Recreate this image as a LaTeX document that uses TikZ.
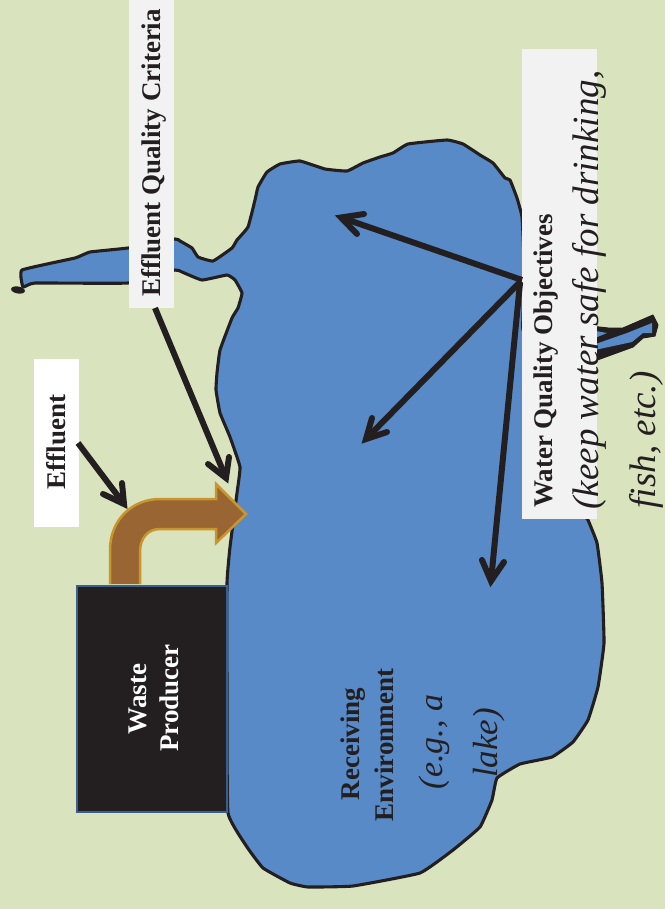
\documentclass[tikz,border=0pt]{standalone}
\usepackage{fontspec}
\setmainfont{Liberation Serif}
\definecolor{bggreen}{HTML}{D9E4BE}
\definecolor{lakeblue}{HTML}{578AC7}
\definecolor{inkblack}{HTML}{231F20}
\definecolor{brownfill}{HTML}{996633}
\definecolor{brownedge}{HTML}{C8962C}
\definecolor{boxgrey}{HTML}{F2F2F2}
\definecolor{boxedge}{HTML}{3A5F8C}
\tikzset{
  shore/.style={draw=inkblack,line width=3.1pt,line join=round,line cap=round,fill=lakeblue},
  pointer/.style={draw=inkblack,line width=6pt,line cap=butt},
  barb/.style={draw=inkblack,line width=6pt,line cap=round,line join=miter,miter limit=10},
  boldlabel/.style={font=\bfseries\fontsize{27}{27}\selectfont,text=inkblack,rotate=90,inner sep=0pt,anchor=base},
  whitelabel/.style={boldlabel,text=white},
  itlabel/.style={font=\itshape\fontsize{37}{37}\selectfont,text=inkblack,rotate=90,inner sep=0pt,anchor=base},
  panel/.style={draw=none,inner sep=0pt}
}
\begin{document}
\begin{tikzpicture}[x=1pt,y=-1pt]
\useasboundingbox (0,0) rectangle (670,909);
\fill[white] (0,0) rectangle (670,909);
\fill[bggreen] (0,0) rectangle (665,909);
% right-hand stream
\fill[inkblack,draw=inkblack,line width=1pt,line join=round] (590,326) -- (608,328) -- (623,328) -- (653,315) -- (658,325) -- (655,336) -- (643,338) -- (633,347) -- (600,359) -- (590,362) -- cycle;
\fill[lakeblue] (590,351) -- (632,342) -- (643,333) -- (652,333) -- (652,323) -- (627,333) -- (590,346) -- cycle;
\fill[lakeblue] (590,330) -- (607,333) -- (590,340) -- cycle;
% left stream tip
\fill[inkblack,rotate around={-10:(18,290)}] (18,290) ellipse (7 and 3.5);
% lake
\draw[shore] plot[smooth cycle,tension=0.2] coordinates {
 (23,287) (22,270) (75,258) (90,252) (128,248) (175,239) (180,241) (192,248) (198,257)
 (213,261) (232,248) (237,240) (248,227) (255,200) (258,187) (267,172) (280,164) (300,161)
 (325,169) (347,171) (363,163) (380,157) (393,153) (408,144) (447,140) (463,144) (480,155) (493,163)
 (505,178) (510,180) (517,198) (522,217) (524,260) (523,315) (523,330) (535,345) (560,420) (582,510) (588,520)
 (597,543) (602,583) (604,643) (598,687) (588,720) (573,742) (552,757) (520,764) (497,778) (492,800)
 (480,827) (453,850) (420,873) (353,886) (308,887) (290,883) (263,868) (247,847) (228,813)
 (227,700) (227,583) (230,547) (237,493) (240,467) (230,437) (220,413) (216,390) (217,373) (220,350) (232,318) (238,308)
 (242,293) (235,280) (227,275) (202,280) (182,272) (175,270) (128,283) (35,283)};
% text panels
\node[panel,fill=boxgrey,minimum width=45pt,minimum height=308pt] (eqcbox) at (151.5,154) {};
\node[panel,fill=boxgrey,minimum width=75pt,minimum height=470pt] (wqobox) at (559.5,284) {};
\node[panel,fill=white,minimum width=45pt,minimum height=168pt] (effbox) at (56.5,443) {};
% waste producer
\node[draw=boxedge,line width=1.8pt,fill=inkblack,minimum width=150pt,minimum height=226pt,inner sep=0pt] (waste) at (152,699) {};
% effluent pipe arrow
\draw[draw=brownedge,line width=2.5pt,fill=brownfill,line join=miter] (110,584) -- (110,550)
 .. controls (110,520) and (132,499) .. (160,499) -- (216,499) -- (216,484) -- (246,514) -- (216,543) -- (216,529) -- (160,529)
 .. controls (148,529) and (140,538) .. (140,552) -- (140,584);
% anchor coordinates
\coordinate (effstart) at (78,443);
\coordinate (efftip) at (124,504);
\coordinate (eqcstart) at (155,308);
\coordinate (eqctip) at (226,478);
\coordinate (hubb) at (521,281);
\coordinate (tipa) at (341,217.5);
\coordinate (tipb) at (366,439);
\coordinate (tipc) at (491,581);
\draw[pointer] (effstart) -- (efftip);
\draw[barb] (103,494) -- (efftip) -- (122,483);
\draw[pointer] (eqcstart) -- (eqctip);
\draw[barb] (208,464) -- (eqctip) -- (229,457);
\draw[pointer] (522,280) -- (tipa);
\draw[barb] (364,214) -- (tipa) -- (357,234);
\draw[pointer] (hubb) -- (tipb);
\draw[barb] (372,418) -- (tipb) -- (387,432);
\draw[pointer] (520,283) -- (tipc);
\draw[barb] (482,560) -- (tipc) -- (504,562);
% labels
\node[boldlabel] (eqclabel) at (160,153) {Effluent Quality Criteria};
\node[boldlabel] (efflabel) at (65,442) {Effluent};
\node[boldlabel] (wqolabel) at (552,361) {Water Quality Objectives};
\node[itlabel] (keep) at (598,290) {(keep water safe for drinking,};
\node[itlabel] (fish) at (655,440) {fish, etc.)};
\node[whitelabel] (wastea) at (146,699) {Waste};
\node[whitelabel] (wasteb) at (178,698) {Producer};
\node[boldlabel] (recv) at (359,744) {Receiving};
\node[boldlabel] (envi) at (393,745) {Environment};
\node[itlabel,font=\itshape\fontsize{34}{34}\selectfont] (eg) at (442,742) {(e.g., a};
\node[itlabel,font=\itshape\fontsize{35}{35}\selectfont] (lake) at (497,743) {lake)};
\end{tikzpicture}
\end{document}
